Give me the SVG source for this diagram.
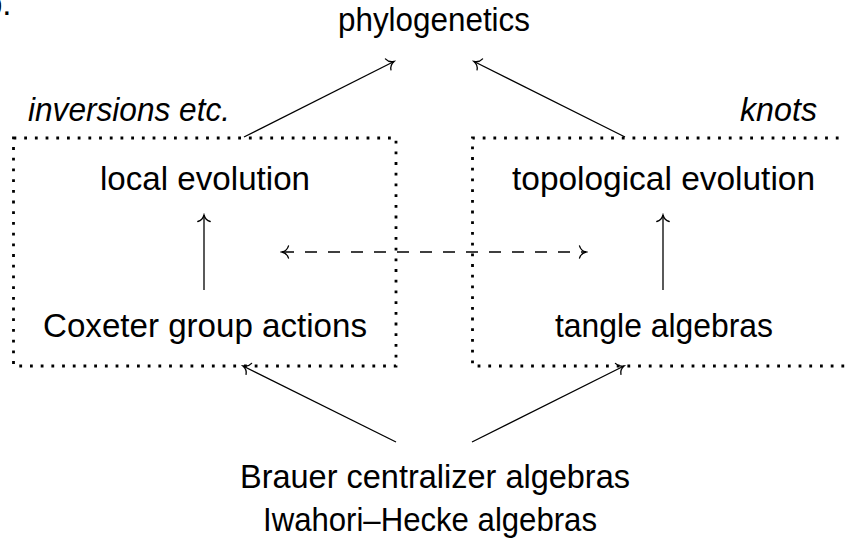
<svg xmlns="http://www.w3.org/2000/svg" width="846" height="542" viewBox="0 0 846 542">
  <style>
    .t { font-family: "Liberation Sans", "DejaVu Sans", sans-serif; font-size: 33px; fill: #000; }
    .it { font-style: italic; }
    .box { fill: none; stroke: #000; stroke-width: 2.8; stroke-dasharray: 2.8 7.9; }
    .arr { fill: none; stroke: #000; stroke-width: 1.3; marker-end: url(#to); }
    .dash { stroke-dasharray: 12 11; marker-start: url(#to); }
  </style>
  <defs>
    <marker id="to" viewBox="-10 -8 12 16" refX="0" refY="0" markerWidth="12" markerHeight="16" markerUnits="userSpaceOnUse" orient="auto-start-reverse">
      <path d="M -6.5 -6.2 C -5.5 -2.6 -2.2 -0.6 0 0 C -2.2 0.6 -5.5 2.6 -6.5 6.2" fill="none" stroke="#000" stroke-width="1.3" stroke-linecap="round"/>
    </marker>
  </defs>

  <text class="t" x="-16" y="15">b.</text>

  <g id="groups">
    <g id="group-left">
      <rect class="box" x="13.5" y="138" width="382.5" height="228"/>
      <text class="t it" x="28" y="121" textLength="202" lengthAdjust="spacingAndGlyphs">inversions etc.</text>
    </g>
    <g id="group-right">
      <path class="box" d="M 860 138 H 472.5 V 366 H 860"/>
      <text class="t it" x="740" y="121" textLength="77" lengthAdjust="spacingAndGlyphs">knots</text>
    </g>
  </g>

  <g id="phylogenetics">
    <text class="t" x="338" y="31" textLength="192" lengthAdjust="spacingAndGlyphs">phylogenetics</text>
  </g>
  <g id="local-evolution">
    <text class="t" x="100" y="190" textLength="210" lengthAdjust="spacingAndGlyphs">local evolution</text>
  </g>
  <g id="topological-evolution">
    <text class="t" x="512" y="190" textLength="303" lengthAdjust="spacingAndGlyphs">topological evolution</text>
  </g>
  <g id="coxeter-group-actions">
    <text class="t" x="43" y="337" textLength="324" lengthAdjust="spacingAndGlyphs">Coxeter group actions</text>
  </g>
  <g id="tangle-algebras">
    <text class="t" x="555" y="337" textLength="218" lengthAdjust="spacingAndGlyphs">tangle algebras</text>
  </g>
  <g id="brauer-iwahori-hecke">
    <text class="t" x="240" y="488" textLength="390" lengthAdjust="spacingAndGlyphs">Brauer centralizer algebras</text>
    <text class="t" x="263" y="531" textLength="334" lengthAdjust="spacingAndGlyphs">Iwahori–Hecke algebras</text>
  </g>

  <g id="connectors">
    <line class="arr" x1="244" y1="137" x2="394" y2="61.5"/>
    <line class="arr" x1="625" y1="137" x2="474" y2="61.5"/>
    <line class="arr" x1="204" y1="290" x2="204" y2="215"/>
    <line class="arr" x1="663" y1="290" x2="663" y2="215"/>
    <line class="arr dash" x1="282" y1="252" x2="586" y2="252"/>
    <line class="arr" x1="396" y1="442" x2="243" y2="366"/>
    <line class="arr" x1="472" y1="442" x2="624" y2="366"/>
  </g>
</svg>
